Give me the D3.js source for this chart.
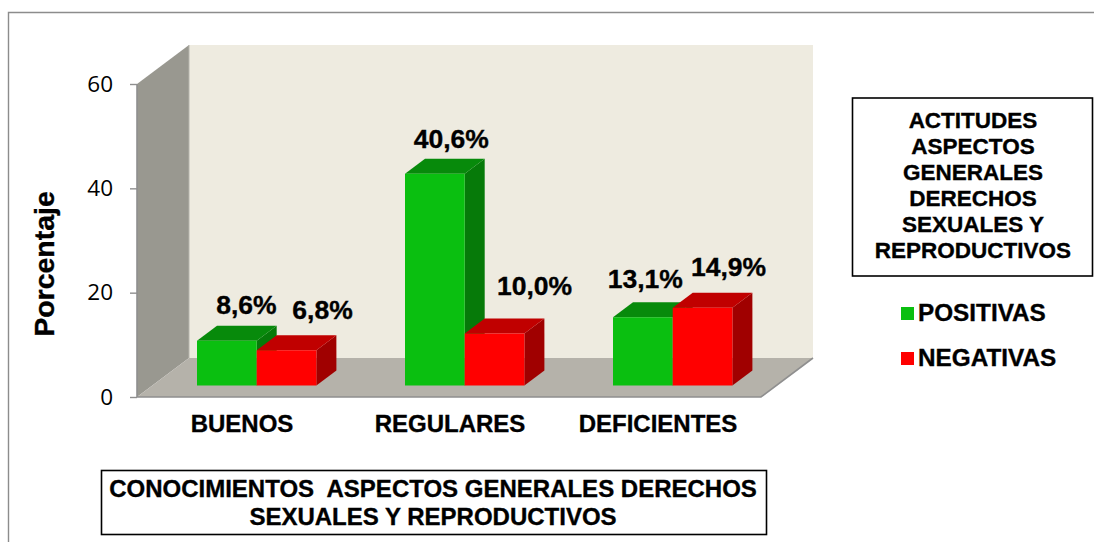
<!DOCTYPE html>
<html><head><meta charset="utf-8">
<script src="https://cdn.jsdelivr.net/npm/d3@7"></script>
<style>html,body{margin:0;padding:0;background:#fff}svg{display:block}</style>
</head><body><svg id="c" width="1094" height="542"></svg>
<script>
const categories = ["BUENOS","REGULARES","DEFICIENTES"];
const positivas = [8.6,40.6,13.1];
const negativas = [6.8,10.0,14.9];
const positivasText = ["8,6%","40,6%","13,1%"];
const negativasText = ["6,8%","10,0%","14,9%"];
const yTicks = [0,20,40,60];
const seriesNames = ["POSITIVAS","NEGATIVAS"];
const yTitle = "Porcentaje";
const xTitleLines = ["CONOCIMIENTOS  ASPECTOS GENERALES DERECHOS","SEXUALES Y REPRODUCTIVOS"];
const legendTitleLines = ["ACTITUDES","ASPECTOS","GENERALES","DERECHOS","SEXUALES Y","REPRODUCTIVOS"];

const svg = d3.select("#c");
const bold = "'Liberation Sans',Arial,sans-serif";
const L=137,R=761,Y0=397,Y60=84, DX=52, DY=-39;
const x = d3.scaleBand().domain(categories).range([L,R]);
const y = d3.scaleLinear().domain([0,60]).range([Y0,Y60]);
const poly=(pts,fill,stroke)=>svg.append("polygon").attr("points",pts.map(p=>p.join(",")).join(" ")).attr("fill",fill).attr("stroke",stroke||"none");
const boldText=(sel,size)=>sel.attr("font-family",bold).attr("font-weight",700).attr("font-size",size).attr("fill","#000").attr("stroke","#000").attr("stroke-width",0.35);

// frame
svg.append("path").attr("d","M8.5,542V12.5H1094").attr("fill","none").attr("stroke","#8c8c8c").attr("stroke-width",1.4);
// walls
poly([[L+DX,y(60)+DY],[R+DX,y(60)+DY],[R+DX,Y0+DY],[L+DX,Y0+DY]],"#eeebe0");
poly([[L,y(60)],[L+DX,y(60)+DY],[L+DX,Y0+DY],[L,Y0]],"#999890");
poly([[L,Y0],[L+DX,Y0+DY],[R+DX,Y0+DY],[R,Y0]],"#b5b2aa");
svg.append("line").attr("x1",L+DX).attr("x2",L+DX).attr("y1",y(60)+DY).attr("y2",Y0+DY).attr("stroke","#b5b5ad");
svg.append("path").attr("d",`M${L},${Y0}H${R}L${R+DX},${Y0+DY}`).attr("fill","none").attr("stroke","#8f8f8f").attr("stroke-width",1.6);

// axis
const ax = svg.append("g").attr("transform",`translate(${L},0)`).call(d3.axisLeft(y).tickValues(yTicks).tickSize(7).tickPadding(17));
ax.select(".domain").attr("stroke","#8f8f8f").attr("stroke-width",1.6).attr("d",`M0,${y(60)}V${Y0}`);
ax.selectAll(".tick line").attr("stroke","#8f8f8f").attr("stroke-width",1.4);
ax.selectAll(".tick text").attr("font-family","'Open Sans',sans-serif").attr("font-size",22.5).attr("fill","#000");

// bars
const BW=59.7, BDX=20, BDY=-15, OY=-11.4, bandOffset=60;
const colors=[{f:"#0abf10",t:"#078a0b",s:"#067a09"},{f:"#ff0000",t:"#c00000",s:"#a00000"}];
function bar(xl,v,c){
  const top=y(v)+OY, base=Y0+OY, xr=xl+BW;
  poly([[xr,top],[xr+BDX,top+BDY],[xr+BDX,base+BDY],[xr,base]],c.s);
  poly([[xl,top],[xl+BDX,top+BDY],[xr+BDX,top+BDY],[xr,top]],c.t);
  poly([[xl,top],[xr,top],[xr,base],[xl,base]],c.f);
}
categories.forEach((cat,i)=>{
  const x0=x(cat)+bandOffset;
  bar(x0,positivas[i],colors[0]);
  bar(x0+BW,negativas[i],colors[1]);
});
// data labels
const labelShift=[[19.5,-36],[36,-40],[16.5,-35],[40,-47],[2.5,-38],[26,-41]];
const lab=(t,cx,cy)=>boldText(svg.append("text").text(t).attr("x",cx).attr("y",cy).attr("text-anchor","middle"),26.5);
categories.forEach((cat,i)=>{
  const x0=x(cat)+bandOffset;
  const a=labelShift[i*2],b=labelShift[i*2+1];
  lab(positivasText[i],x0+BW/2+a[0],y(positivas[i])+OY+a[1]+9);
  lab(negativasText[i],x0+BW*1.5+b[0],y(negativas[i])+OY+b[1]+9);
});
// category labels
boldText(svg.selectAll(".cat").data(categories).enter().append("text").text(d=>d)
 .attr("x",d=>x(d)+x.bandwidth()/2+1).attr("y",432).attr("text-anchor","middle"),24);
// y title
boldText(svg.append("text").text(yTitle).attr("transform","translate(54,264) rotate(-90)").attr("text-anchor","middle"),28.5);
// x title box
svg.append("rect").attr("x",101.5).attr("y",470.5).attr("width",665).attr("height",64).attr("fill","#fff").attr("stroke","#000").attr("stroke-width",1.6);
xTitleLines.forEach((t,i)=>boldText(svg.append("text").text(t).style("white-space","pre").attr("x",433).attr("y",497+i*28).attr("text-anchor","middle"),24));
// legend box
svg.append("rect").attr("x",852.5).attr("y",98).attr("width",240).attr("height",178).attr("fill","#fff").attr("stroke","#000").attr("stroke-width",1.6);
legendTitleLines.forEach((t,i)=>boldText(svg.append("text").text(t).attr("x",973).attr("y",128+i*26).attr("text-anchor","middle"),22.5));
// legend
seriesNames.forEach((t,i)=>{
  const yy=307+i*45;
  svg.append("rect").attr("x",901).attr("y",yy).attr("width",13).attr("height",13).attr("fill",colors[i].f);
  boldText(svg.append("text").text(t).attr("x",918).attr("y",yy+14),24.3);
});
</script></body></html>
